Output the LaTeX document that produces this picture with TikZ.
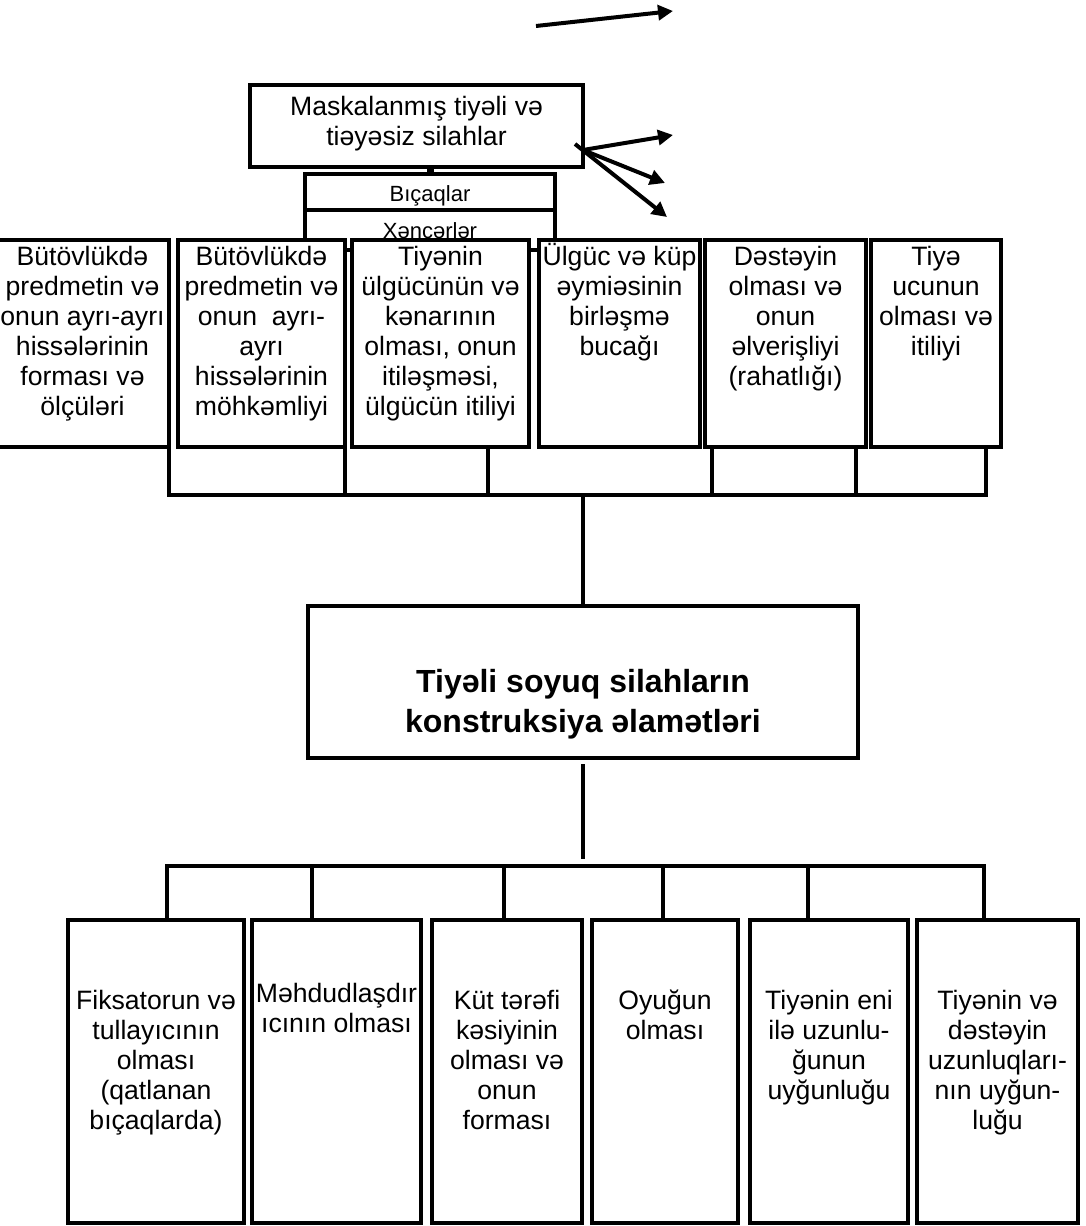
\documentclass[tikz,border=0pt]{standalone}
\usepackage{fontspec}
\setmainfont{Liberation Sans}
\usetikzlibrary{arrows.meta}
\newcommand{\capstrut}{\rule{0pt}{24pt}}
\tikzset{
  box/.style = {draw, fill = white, line width = 4pt, inner sep = 0pt},
  boxtext/.style = {anchor = north, align = center, inner sep = 0pt, font = \fontsize{26.6}{30}\selectfont},
  smalltext/.style = {anchor = base, inner sep = 0pt, font = \fontsize{22}{26}\selectfont},
  wire/.style = {line width = 3.3pt, line cap = rect},
  pointer/.style = {line width = 4pt, -{Triangle[length = 15pt, width = 15pt]}}
}
\begin{document}
\begin{tikzpicture}[x = 1pt, y = -1pt]
\useasboundingbox (0,0) rectangle (1086,1226);
\node[box, minimum width = 333pt, minimum height = 82pt] (mask) at (416.5,126) {};
\node[boxtext] (masktext) at ([yshift = -8pt]mask.north) {\capstrut Maskalanmış tiyəli və\\tiəyəsiz silahlar};
\node[box, minimum width = 250pt, minimum height = 40pt] (xencer) at (430,230) {};
\node[smalltext] (xencertext) at (430,238) {Xəncərlər};
\node[box, minimum width = 250pt, minimum height = 36pt] (bicaq) at (430,192) {};
\node[smalltext] (bicaqtext) at (430,201) {Bıçaqlar};
\draw[line width = 7pt] (bicaq.north) -- (bicaq.north |- mask.south);
\coordinate (free) at (536,26);
\coordinate (freetip) at (673,11);
\draw[pointer] (free) -- (freetip);
\coordinate (fan) at (583,150);
\coordinate (fanback) at (575,144);
\coordinate (fan1) at (673,135);
\coordinate (fan2) at (665,183);
\coordinate (fan3) at (667,217);
\draw[pointer] (fan) -- (fan1);
\draw[pointer] (fan) -- (fan2);
\draw[pointer] (fanback) -- (fan3);
\foreach \n/\cx/\w in {t1/82.5/173, t2/261.5/167, t3/440.5/177, t4/619.5/161, t5/785.5/161, t6/936/130}
{
	\node[box, minimum width = \w pt, minimum height = 207pt] (\n) at (\cx,343.5) {};
}
\node[boxtext] (t1text) at ([yshift = -3pt]t1.north) {\capstrut Bütövlükdə\\predmetin və\\onun ayrı-ayrı\\hissələrinin\\forması və\\ölçüləri};
\node[boxtext] (t2text) at ([yshift = -3pt]t2.north) {\capstrut Bütövlükdə\\predmetin və\\onun\ \ ayrı-\\ayrı\\hissələrinin\\möhkəmliyi};
\node[boxtext] (t3text) at ([yshift = -3pt]t3.north) {\capstrut Tiyənin\\ülgücünün və\\kənarının\\olması, onun\\itiləşməsi,\\ülgücün itiliyi};
\node[boxtext] (t4text) at ([yshift = -3pt]t4.north) {\capstrut Ülgüc və küp\\əymiəsinin\\birləşmə\\bucağı};
\node[boxtext] (t5text) at ([yshift = -3pt]t5.north) {\capstrut Dəstəyin\\olması və\\onun\\əlverişliyi\\(rahatlığı)};
\node[boxtext] (t6text) at ([yshift = -3pt]t6.north) {\capstrut Tiyə\\ucunun\\olması və\\itiliyi};
\node[box, minimum width = 550pt, minimum height = 152pt] (main) at (583,682) {};
\node[boxtext, font = \fontsize{32}{40}\selectfont\bfseries] (maintext) at ([yshift = -64pt]main.north) {\capstrut Tiyəli soyuq silahların\\konstruksiya əlamətləri};
\foreach \n/\cx/\w in {b1/156/176, b2/336.5/169, b3/507/150, b4/665/146, b5/829/158, b6/997.5/161}
{
	\node[box, minimum width = \w pt, minimum height = 303pt] (\n) at (\cx,1071.5) {};
}
\node[boxtext] (b1text) at ([yshift = -67pt]b1.north) {\capstrut Fiksatorun və\\tullayıcının\\olması\\(qatlanan\\bıçaqlarda)};
\node[boxtext] (b2text) at ([yshift = -60pt]b2.north) {\capstrut Məhdudlaşdır\\ıcının olması};
\node[boxtext] (b3text) at ([yshift = -67pt]b3.north) {\capstrut Küt tərəfi\\kəsiyinin\\olması və\\onun\\forması};
\node[boxtext] (b4text) at ([yshift = -67pt]b4.north) {\capstrut Oyuğun\\olması};
\node[boxtext] (b5text) at ([yshift = -67pt]b5.north) {\capstrut Tiyənin eni\\ilə uzunlu-\\ğunun\\uyğunluğu};
\node[boxtext] (b6text) at ([yshift = -67pt]b6.north) {\capstrut Tiyənin və\\dəstəyin\\uzunluqları-\\nın uyğun-\\luğu};
\coordinate (topbusL) at (169,495);
\coordinate (topbusR) at (986,495);
\draw[wire] (topbusL) -- (topbusR);
\foreach \x/\n in {169/t1, 345/t2, 488/t3, 712/t5, 856/t5, 986/t6}
{
	\draw[wire] (\x,0 |- \n.south) -- (\x,0 |- topbusL);
}
\draw[wire] (main.north) -- (main.north |- topbusL);
\coordinate (botbusL) at (167,866);
\coordinate (botbusR) at (984,866);
\draw[wire] (botbusL) -- (botbusR);
\draw[wire, line cap = butt, shorten <= 4pt, shorten >= 7pt] (main.south) -- (main.south |- botbusL);
\foreach \x/\n in {167/b1, 312/b2, 504/b3, 663/b4, 808/b5, 984/b6}
{
	\draw[wire] (\x,0 |- botbusL) -- (\x,0 |- \n.north);
}
\end{tikzpicture}
\end{document}
